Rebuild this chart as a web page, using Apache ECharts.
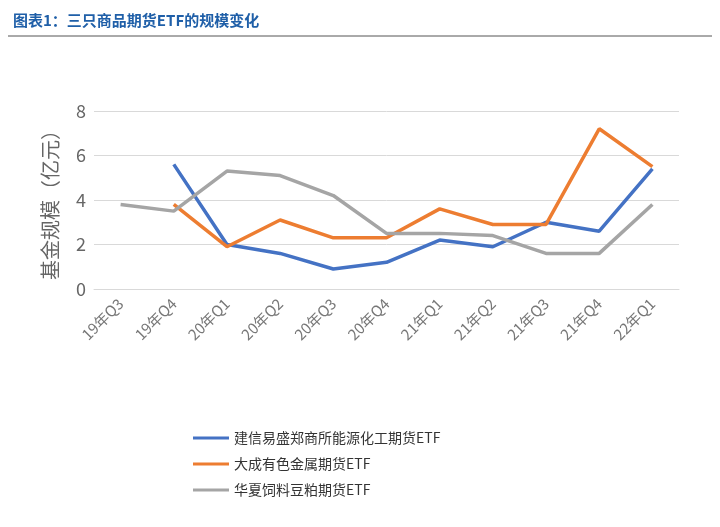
<!DOCTYPE html>
<html>
<head>
<meta charset="utf-8">
<script src="https://cdn.jsdelivr.net/npm/echarts@6/dist/echarts.min.js"></script>
<style>
  body { margin: 0; background: #fff; }
  #main { width: 720px; height: 527px; }
</style>
</head>
<body>
<div id="main"></div>
<script>
var categories = ['19年Q3', '19年Q4', '20年Q1', '20年Q2', '20年Q3', '20年Q4', '21年Q1', '21年Q2', '21年Q3', '21年Q4', '22年Q1'];
var jianxin = [null, 5.6, 2.0, 1.6, 0.9, 1.2, 2.2, 1.9, 3.0, 2.6, 5.4];
var dacheng = [null, 3.8, 1.9, 3.1, 2.3, 2.3, 3.6, 2.9, 2.9, 7.2, 5.5];
var huaxia = [3.8, 3.5, 5.3, 5.1, 4.2, 2.5, 2.5, 2.4, 1.6, 1.6, 3.8];

var myChart = echarts.init(document.getElementById('main'));
var font = '"Noto Sans CJK SC", sans-serif';
var option = {
    textStyle: { fontFamily: font },
    title: {
        text: '图表1：三只商品期货ETF的规模变化',
        left: 8, top: 8,
        textStyle: { color: '#1f5fa8', fontSize: 15, fontWeight: 'bold', fontFamily: font }
    },
    graphic: [{
        type: 'line', shape: { x1: 8, y1: 36, x2: 712, y2: 36 },
        style: { stroke: '#555', lineWidth: 1 }
    }],
    legend: {
        orient: 'vertical', left: 188, top: 426, itemGap: 12,
        itemWidth: 36, icon: 'path://M0,0H36V3H0Z',
        textStyle: { fontSize: 14, color: '#333' },
        data: ['建信易盛郑商所能源化工期货ETF', '大成有色金属期货ETF', '华夏饲料豆粕期货ETF']
    },
    grid: { left: 94, right: 41, top: 111, bottom: 238 },
    xAxis: {
        type: 'category', data: categories, boundaryGap: true,
        axisLine: { lineStyle: { color: '#d9d9d9' } },
        axisTick: { show: false },
        axisLabel: { rotate: 45, color: '#777', fontSize: 15, margin: 12 }
    },
    yAxis: {
        type: 'value', min: 0, max: 8, interval: 2,
        name: '基金规模（亿元）', nameLocation: 'middle', nameGap: 34, nameRotate: 90,
        nameTextStyle: { fontSize: 20, color: '#666' },
        axisLine: { show: false }, axisTick: { show: false },
        axisLabel: { color: '#666', fontSize: 18 },
        splitLine: { lineStyle: { color: '#d9d9d9' } }
    },
    series: [
        { name: '建信易盛郑商所能源化工期货ETF', type: 'line', data: jianxin, showSymbol: false,
          lineStyle: { width: 3.5, color: '#4472c4' }, itemStyle: { color: '#4472c4' } },
        { name: '大成有色金属期货ETF', type: 'line', data: dacheng, showSymbol: false,
          lineStyle: { width: 3.5, color: '#ed7d31' }, itemStyle: { color: '#ed7d31' } },
        { name: '华夏饲料豆粕期货ETF', type: 'line', data: huaxia, showSymbol: false,
          lineStyle: { width: 3.5, color: '#a5a5a5' }, itemStyle: { color: '#a5a5a5' } }
    ]
};
myChart.setOption(option);
</script>
</body>
</html>
